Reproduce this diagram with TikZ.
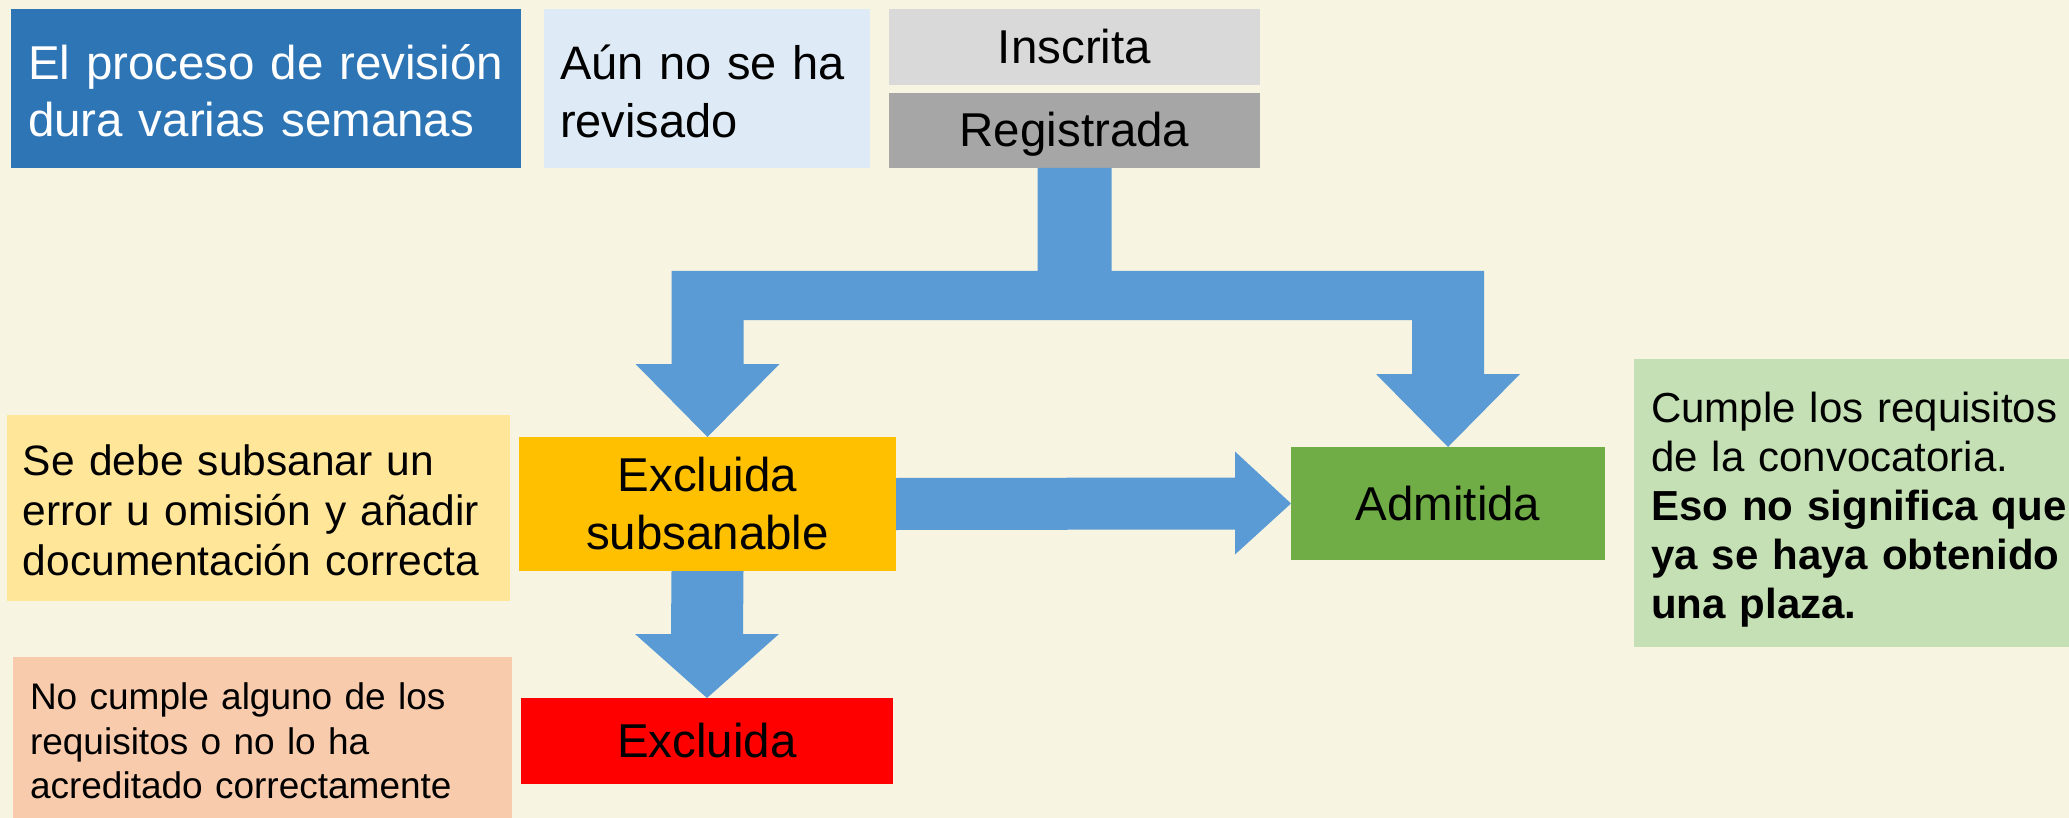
\documentclass[tikz,border=0pt]{standalone}
\usepackage{fontspec}
\setmainfont{Liberation Sans}
\usetikzlibrary{calc}
\definecolor{bgcream}{HTML}{F7F4E1}
\definecolor{introblue}{HTML}{2E75B6}
\definecolor{paleblue}{HTML}{DEEBF7}
\definecolor{lightgrey}{HTML}{D9D9D9}
\definecolor{midgrey}{HTML}{A6A6A6}
\definecolor{arrowblue}{HTML}{5B9BD5}
\definecolor{amber}{HTML}{FFC000}
\definecolor{okgreen}{HTML}{70AD47}
\definecolor{noteyellow}{HTML}{FFE699}
\definecolor{notepeach}{HTML}{F8CBAD}
\definecolor{notegreen}{HTML}{C5E0B4}
\begin{document}
\begin{tikzpicture}[x=1pt,y=-1pt,
  box/.style={rectangle, inner sep=0pt, outer sep=0pt, anchor=center},
  statebox/.style={box, align=center, font=\fontsize{47.5}{58}\selectfont},
  oneline/.style={text height=33pt, text depth=0pt},
  notebox/.style={box, align=left},
  blockarrow/.style={fill=arrowblue, draw=none}]
\useasboundingbox (0,0) rectangle (2069,818);
\fill[bgcream] (0,0) rectangle (2069,818);

% top row
\node[notebox, fill=introblue, text=white, minimum width=510pt, minimum height=159pt,
      inner xsep=17pt, text width=476pt, font=\fontsize{47.5}{57}\selectfont]
  (intro) at (266,88.5) {\mbox{\rule{0pt}{40pt}El proceso de revisión}\\\mbox{dura varias semanas}};
\node[notebox, fill=paleblue, minimum width=326pt, minimum height=159pt,
      inner xsep=16pt, text width=294pt, font=\fontsize{47}{58}\selectfont]
  (pending) at (707,88.5) {\mbox{\rule{0pt}{40pt}Aún no se ha}\\\mbox{revisado}};
\node[statebox, oneline, fill=lightgrey, minimum width=371pt, minimum height=76pt]
  (ins) at (1074.5,47) {Inscrita};
\node[statebox, oneline, fill=midgrey, minimum width=371pt, minimum height=75pt]
  (reg) at (1074.5,130.5) {Registrada};

% states
\node[statebox, fill=amber, minimum width=377pt, minimum height=134pt]
  (exs) at (707.5,504) {Excluida\\subsanable};
\node[statebox, oneline, fill=okgreen, minimum width=314pt, minimum height=113pt]
  (adm) at (1448,503.5) {Admitida};
\node[statebox, oneline, fill=red, minimum width=372pt, minimum height=86pt]
  (exc) at (707,741) {Excluida};

% notes
\node[notebox, fill=noteyellow, minimum width=503pt, minimum height=186pt,
      inner xsep=16pt, text width=471pt, font=\fontsize{42.5}{50}\selectfont]
  (noteexs) at (258.5,508) {\mbox{\rule{0pt}{35pt}Se debe subsanar un}\\\mbox{error u omisión y añadir}\\\mbox{documentación correcta}};
\node[notebox, fill=notepeach, minimum width=499pt, minimum height=168pt,
      inner xsep=17pt, text width=465pt, font=\fontsize{37}{44.5}\selectfont]
  (noteexc) at (262.5,741) {\mbox{No cumple alguno de los}\\\mbox{requisitos o no lo ha}\\\mbox{acreditado correctamente}};
\node[notebox, fill=notegreen, minimum width=456pt, minimum height=288pt,
      inner xsep=17pt, text width=422pt, font=\fontsize{42}{49}\selectfont]
  (noteadm) at (1862,503) {\mbox{\rule{0pt}{43pt}Cumple los requisitos}\\\mbox{de la convocatoria.}\\\mbox{\textbf{Eso no significa que}}\\\mbox{\textbf{ya se haya obtenido}}\\\mbox{\textbf{una plaza.}}};

% fork arrow: Registrada -> Excluida subsanable / Admitida
\fill[blockarrow]
  ($(reg.south)+(-37,0)$) -- ($(reg.south)+(-37,103)$)
  -- ($(exs.north)+(-36,-166)$) -- ($(exs.north)+(-36,-73)$)
  -- ($(exs.north)+(-72,-73)$) -- (exs.north) -- ($(exs.north)+(72,-73)$)
  -- ($(exs.north)+(36,-73)$) -- ($(exs.north)+(36,-117)$)
  -- ($(adm.north)+(-36,-127)$) -- ($(adm.north)+(-36,-73)$)
  -- ($(adm.north)+(-72,-73)$) -- (adm.north) -- ($(adm.north)+(72,-73)$)
  -- ($(adm.north)+(36,-73)$) -- ($(adm.north)+(36,-176)$)
  -- ($(reg.south)+(37,103)$) -- ($(reg.south)+(37,0)$) -- cycle;

% Excluida subsanable -> Admitida
\fill[blockarrow]
  ($(exs.east)+(0,-26)$) -- ($(adm.west)+(-56,-26)$) -- ($(adm.west)+(-56,-52)$)
  -- (adm.west) -- ($(adm.west)+(-56,51)$) -- ($(adm.west)+(-56,26)$)
  -- ($(exs.east)+(0,26)$) -- cycle;

% Excluida subsanable -> Excluida
\fill[blockarrow]
  ($(exs.south)+(-36,0)$) -- ($(exc.north)+(-36,-64)$) -- ($(exc.north)+(-72,-64)$)
  -- (exc.north) -- ($(exc.north)+(72,-64)$) -- ($(exc.north)+(36,-64)$)
  -- ($(exs.south)+(36,0)$) -- cycle;
\end{tikzpicture}
\end{document}
